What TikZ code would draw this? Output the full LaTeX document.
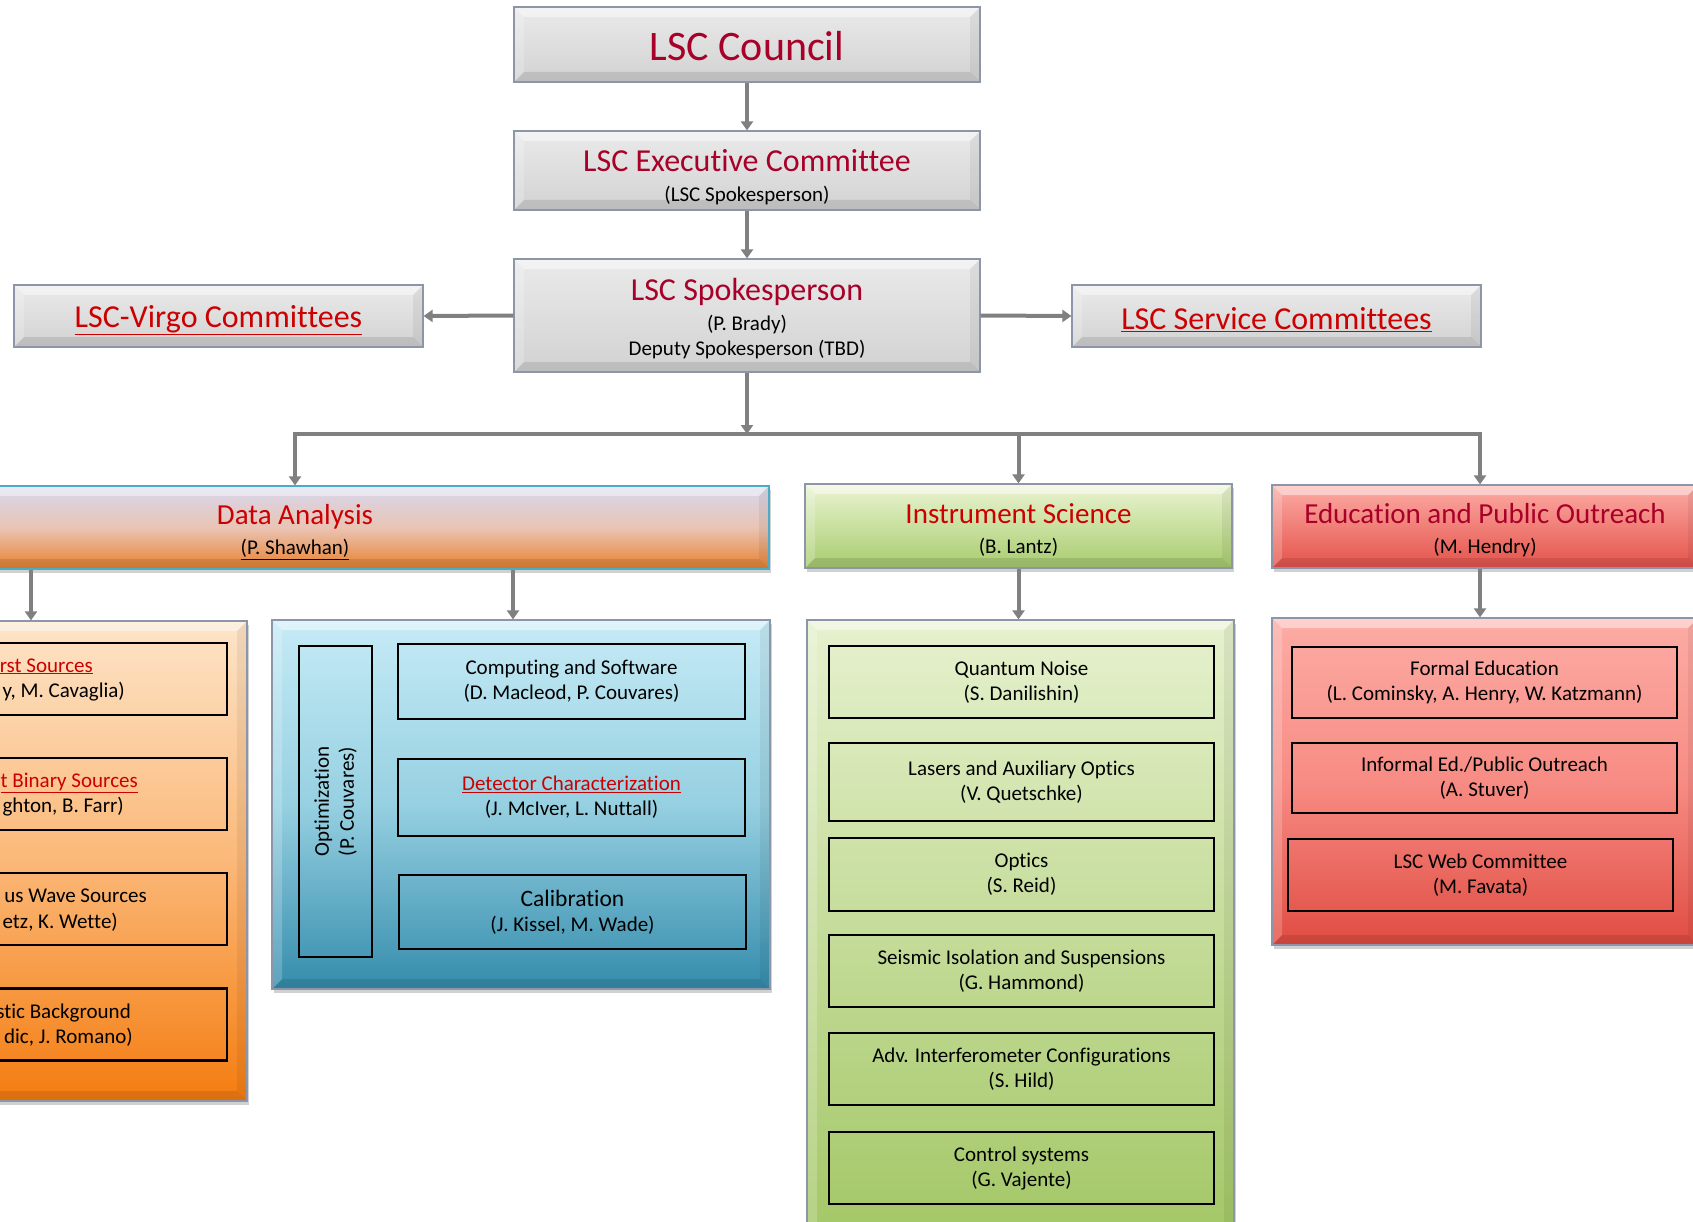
\documentclass[tikz,border=0pt]{standalone}
\usepackage{fontspec}
\setmainfont{Carlito}[Ligatures=NoCommon]
\usetikzlibrary{positioning,arrows.meta,shadows}

\definecolor{lscred}{RGB}{168,0,40}
\definecolor{linkred}{RGB}{204,0,0}
\definecolor{arrgray}{RGB}{128,128,128}
\definecolor{edgegray}{RGB}{140,150,168}
\definecolor{dacyan}{RGB}{75,172,198}
\definecolor{boxtop}{RGB}{234,234,234}
\definecolor{boxbot}{RGB}{210,210,210}
\definecolor{dahtop}{RGB}{214,216,238}
\definecolor{dahmid}{RGB}{234,196,180}
\definecolor{dahbot}{RGB}{232,128,46}
\definecolor{ortop}{RGB}{253,228,200}
\definecolor{ormid}{RGB}{251,184,120}
\definecolor{orbot}{RGB}{244,124,16}
\definecolor{bltop}{RGB}{198,235,246}
\definecolor{blmid}{RGB}{150,208,225}
\definecolor{blbot}{RGB}{52,140,172}
\definecolor{grtop}{RGB}{234,244,210}
\definecolor{grbot}{RGB}{168,204,110}
\definecolor{grbtop}{RGB}{230,241,206}
\definecolor{grbbot}{RGB}{162,198,100}
\definecolor{eptop}{RGB}{252,172,165}
\definecolor{epbot}{RGB}{228,82,74}
\definecolor{epbmid}{RGB}{247,140,132}
\definecolor{epbbot}{RGB}{224,76,66}

\newcommand{\fs}[2]{\fontsize{#1}{#2}\selectfont}
\newcommand{\lift}[1]{\rule{0pt}{#1pt}}

\tikzset{
  bevel/.style={path picture={
    \fill[white,opacity=.45] (path picture bounding box.north west) -- (path picture bounding box.north east)
      -- ([shift={(-10pt,-10pt)}]path picture bounding box.north east) -- ([shift={(10pt,-10pt)}]path picture bounding box.north west) -- cycle;
    \fill[black,opacity=.10] (path picture bounding box.south west) -- (path picture bounding box.south east)
      -- ([shift={(-10pt,10pt)}]path picture bounding box.south east) -- ([shift={(10pt,10pt)}]path picture bounding box.south west) -- cycle;
    \fill[black,opacity=.06] (path picture bounding box.north east) -- (path picture bounding box.south east)
      -- ([shift={(-10pt,10pt)}]path picture bounding box.south east) -- ([shift={(-10pt,-10pt)}]path picture bounding box.north east) -- cycle;
    \fill[white,opacity=.2] (path picture bounding box.north west) -- (path picture bounding box.south west)
      -- ([shift={(10pt,10pt)}]path picture bounding box.south west) -- ([shift={(10pt,-10pt)}]path picture bounding box.north west) -- cycle;
  }},
  topbox/.style={draw=edgegray, line width=1.2pt, top color=boxtop, bottom color=boxbot, bevel, align=center, inner sep=0pt, font=\fs{21}{25}},
  headbox/.style={draw=edgegray, line width=1.2pt, bevel, align=center, inner sep=0pt, font=\fs{21}{30},
    drop shadow={shadow xshift=2pt, shadow yshift=-4pt, fill=black!40, opacity=.45}},
  unitbox/.style={draw=black, line width=2.5pt, align=center, inner sep=0pt, font=\fs{21}{25}},
  frag/.style={anchor=base east, inner sep=0pt, font=\fs{21}{25}},
  conn/.style={draw=arrgray, line width=4pt},
  arr/.style={conn, -{Triangle[width=12pt,length=9pt]}},
}

\begin{document}
\begin{tikzpicture}[x=1pt,y=-1pt]

\useasboundingbox (0,0) rectangle (1693,1222);
\clip (0,0) rectangle (1693,1222);
\fill[white] (0,0) rectangle (1693,1222);

% top of the tree
\node[topbox, minimum width=466pt, minimum height=75pt] (council) at (747,44.5) {\lift{32}\fs{42}{46}\color{lscred}LSC Council};
\node[topbox, minimum width=466pt, minimum height=79pt] (exec) at (747,170.5)
  {\lift{36}{\color{lscred}\fs{32}{34}LSC Executive Committee}\\[5pt](LSC Spokesperson)};
\node[topbox, minimum width=466pt, minimum height=113pt] (spokes) at (747,315.5)
  {\lift{28}{\color{lscred}\fs{32}{34}LSC Spokesperson}\\[5pt](P. Brady)\\Deputy Spokesperson (TBD)};
\node[topbox, minimum width=409pt, minimum height=62pt] (virgo) at (218.5,316)
  {\lift{30}\color{linkred}\fs{32}{34}\underline{LSC-Virgo Committees}};
\node[topbox, minimum width=409pt, minimum height=62pt] (service) at (1276.5,316)
  {\lift{30}\color{linkred}\fs{32}{34}\underline{LSC Service Committees}};
\coordinate (bus) at (747,434);

% working groups
\node[headbox, draw=dacyan, top color=dahtop, bottom color=dahbot, middle color=dahmid,
  minimum width=948pt, minimum height=83pt] (dahead) at (295,527.5)
  {\lift{29}{\color{linkred}\fs{29}{30}Data Analysis}\\\underline{(P. Shawhan)}};
\node[headbox, top color=grtop, bottom color=grbot, minimum width=427pt, minimum height=84pt] (ishead) at (1018.5,526)
  {\lift{28}{\color{linkred}\fs{29}{30}Instrument Science}\\(B. Lantz)};
\node[headbox, top color=eptop, bottom color=epbot, minimum width=426pt, minimum height=83pt] (epohead) at (1485,526.5)
  {\lift{28}{\color{lscred}\fs{29}{30}Education and Public Outreach}\\(M. Hendry)};

\node[headbox, top color=ortop, bottom color=orbot, middle color=ormid, minimum width=432pt, minimum height=480pt] (orbody) at (31,861) {};
\node[headbox, top color=bltop, bottom color=blbot, middle color=blmid, minimum width=498pt, minimum height=369pt] (blbody) at (521,804.5) {};
\node[headbox, top color=grbtop, bottom color=grbbot, minimum width=427pt, minimum height=630pt] (isbody) at (1020.5,935) {};
\node[headbox, top color=eptop, bottom color=epbbot, middle color=epbmid, minimum width=426pt, minimum height=327pt] (epobody) at (1485,781.5) {};

% search groups, cut at the left edge
\foreach \n/\y in {1/679,2/794,3/909,4/1024.5}
  \node[unitbox, minimum width=392pt, minimum height=72pt] (src\n) at (31,\y) {};
\node[frag, text=linkred] (src1a) at (93,672) {\underline{rst Sources}};
\node[frag] (src1b) at (125,697) {y, M. Cavaglia)};
\node[frag, text=linkred] (src2a) at (138,787) {\underline{t Binary Sources}};
\node[frag] (src2b) at (124,812) {ghton, B. Farr)};
\node[frag] (src3a) at (147,902) {us Wave Sources};
\node[frag] (src3b) at (118,928) {etz, K. Wette)};
\node[frag] (src4a) at (131,1018) {stic Background};
\node[frag] (src4b) at (133,1043) {dic, J. Romano)};

% analysis support
\node[unitbox, rotate=90, minimum width=311pt, minimum height=73pt] (optim) at (335.5,801.5) {Optimization\\(P. Couvares)};
\node[unitbox, minimum width=347pt, minimum height=75pt] (comp) at (571.5,681.5) {Computing and Software\\(D. Macleod, P. Couvares)};
\node[unitbox, minimum width=347pt, minimum height=77pt] (detchar) at (571.5,797.5)
  {{\color{linkred}\underline{Detector Characterization}}\\(J. McIver, L. Nuttall)};
\node[unitbox, minimum width=347pt, minimum height=74pt] (calib) at (572.5,912) {{\fs{23.5}{25}Calibration}\\(J. Kissel, M. Wade)};

% instrument science groups
\foreach \n/\y/\h/\a/\b in {1/682/72/Quantum Noise/S. Danilishin, 2/782/78/Lasers and Auxiliary Optics/V. Quetschke,
    3/874.5/73/Optics/S. Reid, 4/971/72/Seismic Isolation and Suspensions/G. Hammond,
    5/1069/72/Adv. Interferometer Configurations/S. Hild, 6/1168/72/Control systems/G. Vajente}
  \node[unitbox, minimum width=385pt, minimum height=\h pt] (is\n) at (1021.5,\y) {\a\\(\b)};

% outreach groups
\node[unitbox, minimum width=385pt, minimum height=71pt] (formal) at (1484.5,682.5) {Formal Education\\(L. Cominsky, A. Henry, W. Katzmann)};
\node[unitbox, minimum width=385pt, minimum height=70pt] (informal) at (1484.5,778) {Informal Ed./Public Outreach\\(A. Stuver)};
\node[unitbox, minimum width=385pt, minimum height=72pt] (web) at (1480.5,875) {LSC Web Committee\\(M. Favata)};

% connectors
\draw[arr] (council) -- (exec);
\draw[arr] (exec) -- (spokes);
\draw[arr] (spokes.west) -- (virgo.east);
\draw[arr] (spokes.east) -- (service.west);
\draw[arr] (spokes.south) -- (bus);
\draw[arr] (bus) -| (dahead.north);
\draw[arr] (bus) -| ([xshift=-5pt]epohead.north);
\draw[arr] (ishead.north |- bus) -- (ishead.north);
\draw[arr] (dahead.south -| orbody.north) -- (orbody.north);
\draw[arr] (dahead.south -| 513,0) -- (blbody.north -| 513,0);
\draw[arr] (ishead.south) -- (ishead.south |- isbody.north);
\draw[arr] ([xshift=-5pt]epohead.south) -- ([xshift=-5pt]epobody.north);

\end{tikzpicture}
\end{document}
